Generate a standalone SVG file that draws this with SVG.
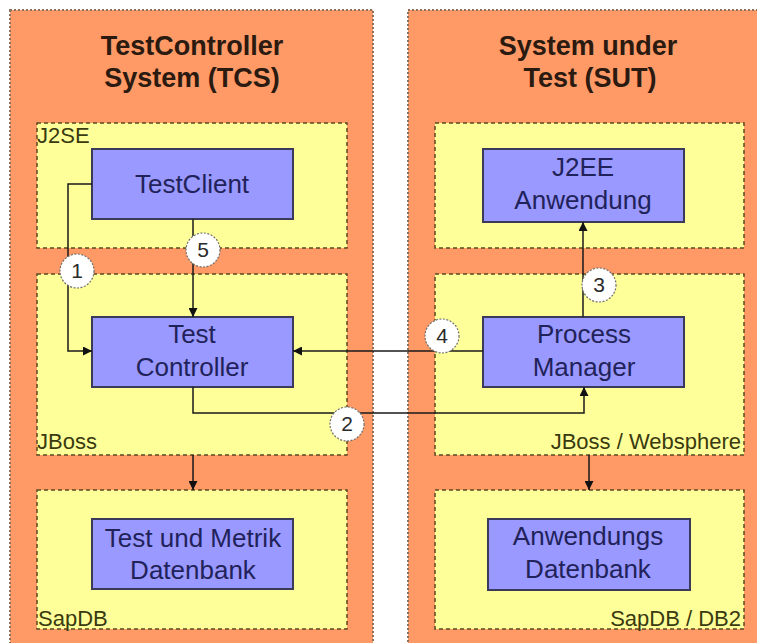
<svg xmlns="http://www.w3.org/2000/svg" width="757" height="643" viewBox="0 0 757 643">
<defs>
<style>
.panel{fill:#FF9966;stroke:#8a7060;stroke-width:2;stroke-dasharray:2 2}
.env{fill:#FFFF99;stroke:#5a4a20;stroke-width:1.5;stroke-dasharray:4 3}
.box{fill:#9999FF;stroke:#3a3a5a;stroke-width:2}
.title{font-family:"Liberation Sans",Arial,sans-serif;font-weight:bold;font-size:27px;fill:#2a1a10;text-anchor:middle}
.bt{font-family:"Liberation Sans",Arial,sans-serif;font-size:26px;fill:#22225a;text-anchor:middle}
.lbl{font-family:"Liberation Sans",Arial,sans-serif;font-size:22px;fill:#3a3a10}
.conn{fill:none;stroke:#1a1a1a;stroke-width:1.5}
.num circle{fill:#ffffff;stroke:#707070;stroke-width:1.2;stroke-dasharray:2 1.5}
.num text{font-family:"Liberation Sans",Arial,sans-serif;font-size:21px;fill:#2a2a2a;text-anchor:middle}
</style>
<marker id="ah" viewBox="0 0 10 10" refX="10" refY="5" markerWidth="9" markerHeight="9" markerUnits="userSpaceOnUse" orient="auto">
<path d="M0,0 L10,5 L0,10 z" fill="#111111"/>
</marker>
</defs>
<rect width="757" height="643" fill="#ffffff"/>
<g id="tcs">
<rect class="panel" x="10" y="10" width="363" height="650"/>
<text class="title" x="192" y="55">TestController</text>
<text class="title" x="192" y="87">System (TCS)</text>
</g>
<g id="sut">
<rect class="panel" x="408" y="10" width="360" height="650"/>
<text class="title" x="588" y="55">System under</text>
<text class="title" x="590" y="87">Test (SUT)</text>
</g>
<g id="j2se">
<rect class="env" x="37" y="123" width="310" height="125"/>
<text class="lbl" x="37" y="143">J2SE</text>
</g>
<g id="j2ee-env">
<rect class="env" x="435" y="123" width="309" height="125"/>
</g>
<g id="jboss">
<rect class="env" x="37" y="274" width="310" height="181"/>
<text class="lbl" x="37" y="449">JBoss</text>
</g>
<g id="jboss-websphere">
<rect class="env" x="435" y="274" width="309" height="181"/>
<text class="lbl" x="741" y="449" text-anchor="end">JBoss / Websphere</text>
</g>
<g id="sapdb">
<rect class="env" x="37" y="490" width="310" height="139"/>
<text class="lbl" x="38" y="626">SapDB</text>
</g>
<g id="sapdb-db2">
<rect class="env" x="435" y="490" width="309" height="139"/>
<text class="lbl" x="741" y="626" text-anchor="end">SapDB / DB2</text>
</g>
<g id="testclient">
<rect class="box" x="92" y="149" width="201" height="70"/>
<text class="bt" x="192" y="193">TestClient</text>
</g>
<g id="j2ee-anwendung">
<rect class="box" x="483" y="149" width="201" height="73"/>
<text class="bt" x="583" y="176">J2EE</text>
<text class="bt" x="583" y="209">Anwendung</text>
</g>
<g id="test-controller">
<rect class="box" x="92" y="317" width="201" height="70"/>
<text class="bt" x="192" y="343">Test</text>
<text class="bt" x="192" y="376">Controller</text>
</g>
<g id="process-manager">
<rect class="box" x="483" y="317" width="201" height="70"/>
<text class="bt" x="584" y="343">Process</text>
<text class="bt" x="584" y="376">Manager</text>
</g>
<g id="test-metrik-db">
<rect class="box" x="92" y="519" width="201" height="70"/>
<text class="bt" x="193" y="547">Test und Metrik</text>
<text class="bt" x="193" y="579">Datenbank</text>
</g>
<g id="anwendungs-db">
<rect class="box" x="488" y="519" width="202" height="71"/>
<text class="bt" x="588" y="545">Anwendungs</text>
<text class="bt" x="588" y="578">Datenbank</text>
</g>
<g id="connectors">
<path class="conn" d="M92,184 H68 V351 H92" marker-end="url(#ah)"/>
<path class="conn" d="M193,219 V317" marker-end="url(#ah)"/>
<path class="conn" d="M483,351 H293" marker-end="url(#ah)"/>
<path class="conn" d="M193,387 V413 H584 V387" marker-end="url(#ah)"/>
<path class="conn" d="M583,317 V222" marker-end="url(#ah)"/>
<path class="conn" d="M193,455 V490" marker-end="url(#ah)"/>
<path class="conn" d="M589,455 V490" marker-end="url(#ah)"/>
<g class="num"><circle cx="77" cy="271" r="17"/><text x="77" y="278">1</text></g>
<g class="num"><circle cx="347" cy="424" r="17"/><text x="347" y="431">2</text></g>
<g class="num"><circle cx="599" cy="285" r="17"/><text x="599" y="292">3</text></g>
<g class="num"><circle cx="442" cy="336" r="17"/><text x="442" y="343">4</text></g>
<g class="num"><circle cx="203" cy="250" r="17"/><text x="203" y="257">5</text></g>
</g>
</svg>
